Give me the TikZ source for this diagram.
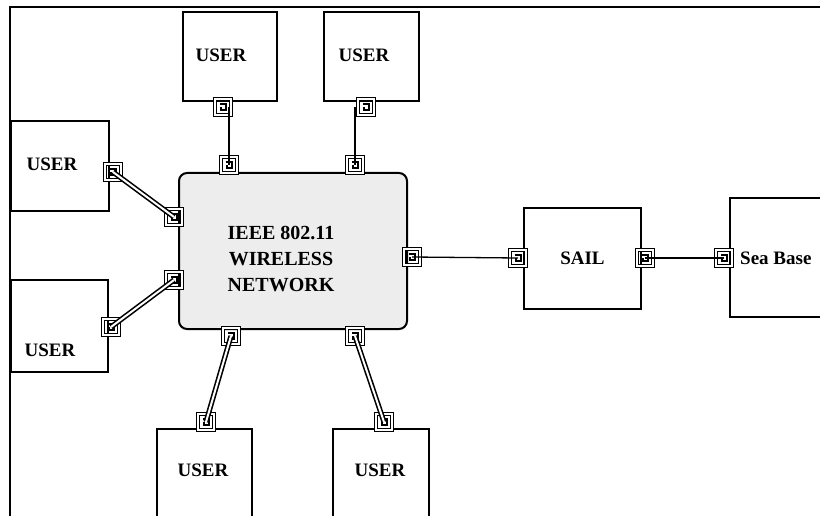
\documentclass[tikz,border=0pt]{standalone}
\usepackage{fontspec}
\setmainfont{Liberation Serif}
\usetikzlibrary{positioning}

\tikzset{
    frameline/.style={line width=1.8pt},
    unitbox/.style={draw, line width=2pt, inner sep=0pt, font=\fontsize{19}{22}\selectfont\bfseries},
    netbox/.style={draw, line width=2pt, rounded corners=8pt, fill=gray!14, inner sep=0pt},
    boxtext/.style={font=\fontsize{19}{22}\selectfont\bfseries, inner sep=0pt},
    port/.style={draw, line width=1.6pt, double=white, double distance=1.2pt,
        minimum size=16pt, inner sep=0pt,
        path picture={
            \draw[line width=1.8pt]
                ([shift={(-3,-3)}]path picture bounding box.center) -- ++(6,0)
                -- ++(0,6) -- ++(-5,0) -- ++(0,-3);
        }},
    link/.style={line width=1.3pt},
    duallink/.style={draw=black, line width=1.6pt, double=white, double distance=2pt}
}

\begin{document}
\begin{tikzpicture}[x=1pt, y=-1pt]
\clip (0,0) rectangle (820,516);
\useasboundingbox (0,0) rectangle (820,516);

% frame
\draw[frameline] (10,516) -- (10,7) -- (820,7);

% user boxes
\node[unitbox, minimum width=94, minimum height=89, anchor=north west] (u1) at (182,11) {};
\node[unitbox, minimum width=95, minimum height=89, anchor=north west] (u2) at (323,11) {};
\node[unitbox, minimum width=98, minimum height=90, anchor=north west] (u3) at (10,120) {};
\node[unitbox, minimum width=97, minimum height=92, anchor=north west] (u4) at (10,279) {};
\node[unitbox, minimum width=95, minimum height=100, anchor=north west] (u5) at (156,428) {};
\node[unitbox, minimum width=96, minimum height=100, anchor=north west] (u6) at (332,428) {};
\node[boxtext] (u1lbl) at (221,55) {USER};
\node[boxtext] (u2lbl) at (364,55) {USER};
\node[boxtext] (u3lbl) at (52,164) {USER};
\node[boxtext] (u4lbl) at (50,350) {USER};
\node[boxtext] (u5lbl) at (203,470) {USER};
\node[boxtext] (u6lbl) at (380,470) {USER};

% wireless network
\node[netbox, minimum width=228, minimum height=156, anchor=north west] (net) at (178,172) {};
\node[boxtext, font=\fontsize{20}{26}\selectfont\bfseries, align=center] (netlbl) at (281,259)
    {IEEE 802.11\\WIRELESS\\NETWORK};

% SAIL and Sea Base
\node[unitbox, minimum width=117, minimum height=101, anchor=north west] (sail) at (523,207) {SAIL};
\node[unitbox, minimum width=120, minimum height=119, anchor=north west] (base) at (729,197) {};
\node[boxtext, anchor=west] (baselbl) at (740,258) {Sea Base};

% ports on the user boxes
\node[port] (pu1) at (223,107) {};
\node[port] (pu2) at (366,107) {};
\node[port] (pu3) at (113,172) {};
\node[port] (pu4) at (111,327) {};
\node[port] (pu5) at (206,422) {};
\node[port] (pu6) at (384,422) {};

% ports on the network
\node[port] (pn1) at (229,165) {};
\node[port] (pn2) at (355,165) {};
\node[port] (pn3) at (174,217) {};
\node[port] (pn4) at (174,280) {};
\node[port] (pn5) at (231,336) {};
\node[port] (pn6) at (355,336) {};
\node[port] (pn7) at (412,257) {};

% ports on SAIL and Sea Base
\node[port] (ps1) at (518,258) {};
\node[port] (ps2) at (645,258) {};
\node[port] (pb) at (724,258) {};

% connectors
\draw[link] (pn1.center) -- (pn1.center |- pu1.center);
\draw[link] (pn2.center) -- (pn2.center |- pu2.center);
\draw[duallink] (pu3.center) -- (pn3.center);
\draw[duallink] (pu4.center) -- (pn4.center);
\draw[duallink] (pn5.center) -- (pu5.center);
\draw[duallink] (pn6.center) -- (pu6.center);
\draw[link] (pn7.center) -- (ps1.center);
\draw[link] (ps2.center) -- (pb.center);

\end{tikzpicture}
\end{document}
